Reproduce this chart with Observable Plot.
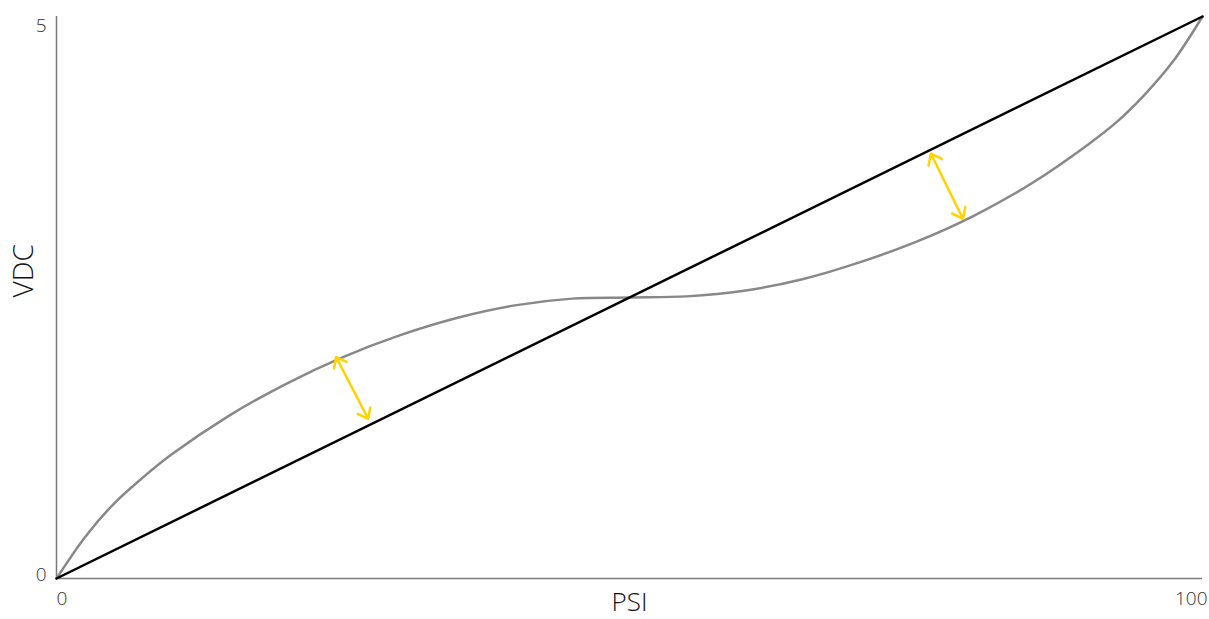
<!DOCTYPE html>
<html>
<head>
<meta charset="utf-8">
<script src="https://cdn.jsdelivr.net/npm/d3@7"></script>
<script src="https://cdn.jsdelivr.net/npm/@observablehq/plot@0.6"></script>
<style>
  html, body { margin: 0; padding: 0; background: #fff; }
  #chart svg { display: block; font-family: "Open Sans", sans-serif; font-weight: 300; }
</style>
</head>
<body>
<div id="chart"></div>
<script>
// Linear reference (black)
const linePsi = [0, 100];
const lineVdc = [0, 5];
// Actual sensor response (gray)
const curvePsi = [0, 2.5, 5, 7.5, 10, 15, 20, 25, 30, 35, 40, 45, 50, 55, 60, 65, 70, 75, 80, 85, 90, 92.5, 95, 97.5, 100];
const curveVdc = [0, 0.37, 0.665, 0.895, 1.10, 1.445, 1.73, 1.97, 2.165, 2.32, 2.43, 2.49, 2.5, 2.51, 2.56, 2.66, 2.81, 2.995, 3.225, 3.51, 3.86, 4.06, 4.31, 4.61, 5];
// Deviation arrows (yellow), end points
const arrowPsiA = [24.4, 76.3];
const arrowVdcA = [1.97, 3.78];
const arrowPsiB = [27.2, 79.1];
const arrowVdcB = [1.42, 3.20];
// Axis ticks
const xTicks = [0, 100];
const yTicks = [0, 5];
const xLabel = "PSI";
const yLabel = "VDC";

const lineData = linePsi.map((p, i) => ({psi: p, vdc: lineVdc[i]}));
const curveData = curvePsi.map((p, i) => ({psi: p, vdc: curveVdc[i]}));
const arrows = arrowPsiA.map((p, i) => ({
  x1: p, y1: arrowVdcA[i], x2: arrowPsiB[i], y2: arrowVdcB[i],
  mx: (p + arrowPsiB[i]) / 2, my: (arrowVdcA[i] + arrowVdcB[i]) / 2
}));

const gold = "#FFD200";
const axisColor = "#7a7a7a";
const tickColor = "#333333";

const chart = Plot.plot({
  width: 1209,
  height: 619,
  marginTop: 16,
  marginBottom: 41,
  marginLeft: 56,
  marginRight: 7,
  x: {domain: [0, 100], axis: null},
  y: {domain: [0, 5], axis: null},
  marks: [
    Plot.ruleX([xTicks[0]], {y1: yTicks[0], y2: yTicks[1], stroke: axisColor, strokeWidth: 1.5}),
    Plot.ruleY([yTicks[0]], {x1: xTicks[0], x2: xTicks[1], stroke: axisColor, strokeWidth: 1.5}),
    Plot.line(curveData, {x: "psi", y: "vdc", stroke: "#888888", strokeWidth: 2.5, curve: "catmull-rom"}),
    Plot.line(lineData, {x: "psi", y: "vdc", stroke: "#000000", strokeWidth: 2.5}),
    Plot.arrow(arrows, {x1: "mx", y1: "my", x2: "x1", y2: "y1", stroke: gold, strokeWidth: 2.5, headLength: 14, headAngle: 75}),
    Plot.arrow(arrows, {x1: "mx", y1: "my", x2: "x2", y2: "y2", stroke: gold, strokeWidth: 2.5, headLength: 14, headAngle: 75}),
    // y tick labels
    Plot.text(yTicks.filter(d => d === yTicks[1]), {y: d => d, text: d => String(d), frameAnchor: "left", dx: -10, dy: 2, textAnchor: "end", lineAnchor: "top", fontSize: 19, fill: tickColor}),
    Plot.text(yTicks.filter(d => d === yTicks[0]), {y: d => d, text: d => String(d), frameAnchor: "left", dx: -10, dy: -4, textAnchor: "end", lineAnchor: "middle", fontSize: 19, fill: tickColor}),
    // x tick labels
    Plot.text(xTicks.filter(d => d === xTicks[0]), {x: d => d, text: d => String(d), frameAnchor: "bottom", dy: 20, textAnchor: "start", lineAnchor: "middle", fontSize: 19, fill: tickColor}),
    Plot.text(xTicks.filter(d => d === xTicks[1]), {x: d => d, text: d => String(d), frameAnchor: "bottom", dy: 20, dx: 5, textAnchor: "end", lineAnchor: "middle", fontSize: 19, fill: tickColor}),
    // axis titles
    Plot.text([xLabel], {frameAnchor: "bottom", dy: 24, lineAnchor: "middle", fontSize: 26, fill: "#111"}),
    Plot.text([yLabel], {frameAnchor: "left", dx: -32, rotate: -90, fontSize: 28, fill: "#111"})
  ]
});
document.getElementById("chart").appendChild(chart);
</script>
</body>
</html>
